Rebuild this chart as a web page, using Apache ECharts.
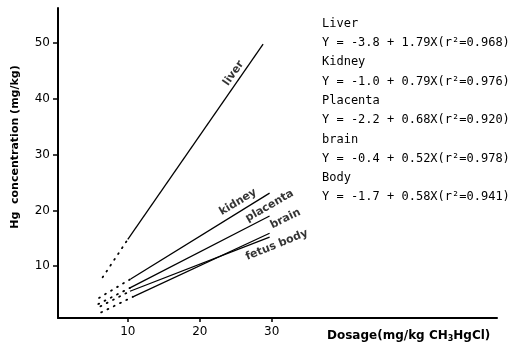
<!DOCTYPE html>
<html>
<head>
<meta charset="utf-8">
<script src="https://cdn.jsdelivr.net/npm/echarts@6/dist/echarts.min.js"></script>
<style>
  html, body { margin: 0; padding: 0; background: #fff; }
  #main { width: 513px; height: 342px; }
</style>
</head>
<body>
<div id="main"></div>
<script>
// tissues and the fitted lines
var tissues = ['liver', 'kidney', 'placenta', 'brain', 'fetus body'];
// solid part (measured range)
var startX = [10.0, 10.4, 10.3, 10.3, 10.7];
var startY = [14.8, 7.7, 6.1, 5.5, 4.5];
var endX = [28.8, 29.7, 29.7, 29.7, 29.7];
var endY = [49.8, 23.1, 19.0, 15.2, 15.9];
// dotted extrapolation toward the origin
var dotX = [6.5, 6.0, 5.9, 6.2, 6.3];
var dotY = [8.0, 4.3, 3.2, 2.8, 1.7];

var xTicks = [10, 20, 30];
var yTicks = [10, 20, 30, 40, 50];

var equations = [
    'Liver',
    'Y = -3.8 + 1.79X(r\u00b2=0.968)',
    'Kidney',
    'Y = -1.0 + 0.79X(r\u00b2=0.976)',
    'Placenta',
    'Y = -2.2 + 0.68X(r\u00b2=0.920)',
    'brain',
    'Y = -0.4 + 0.52X(r\u00b2=0.978)',
    'Body',
    'Y = -1.7 + 0.58X(r\u00b2=0.941)'
];

var myChart = echarts.init(document.getElementById('main'));

var series = [];
tissues.forEach(function (name, i) {
    series.push({
        name: name,
        type: 'line',
        symbol: 'none',
        silent: true,
        lineStyle: { color: '#000', width: 1.3 },
        data: [[startX[i], startY[i]], [endX[i], endY[i]]]
    });
    series.push({
        name: name + ' (extrapolated)',
        type: 'line',
        symbol: 'none',
        silent: true,
        lineStyle: { color: '#000', width: 1.8, type: [1, 6], cap: 'round' },
        data: [[dotX[i], dotY[i]], [startX[i], startY[i]]]
    });
});

// line labels, placed along each line
function lineLabel(text, rot) {
    return {
        show: true, position: 'inside', formatter: text, rotate: rot,
        color: '#000', fontFamily: 'DejaVu Sans', fontWeight: 'bold', fontSize: 11
    };
}
series.push({
    type: 'scatter',
    symbolSize: 0,
    silent: true,
    data: [
        { value: [24.7, 44.6], label: lineLabel(tissues[0], 55) },
        { value: [25.3, 21.5], label: lineLabel(tissues[1], 31) },
        { value: [29.7, 20.8], label: lineLabel(tissues[2], 30) },
        { value: [31.9, 18.5], label: lineLabel(tissues[3], 26) },
        { value: [30.7, 13.8], label: lineLabel(tissues[4], 22) }
    ]
});

var option = {
    animation: false,
    grid: { left: 58, right: 16, top: 8, bottom: 24 },
    xAxis: {
        type: 'value',
        min: 0.3,
        max: 61.3,
        splitLine: { show: false },
        axisLine: { lineStyle: { color: '#000', width: 2 } },
        axisTick: { customValues: xTicks, length: 4, lineStyle: { color: '#000', width: 1.5 } },
        axisLabel: { customValues: xTicks, color: '#000', fontFamily: 'DejaVu Sans', fontSize: 12, margin: 8 }
    },
    yAxis: {
        type: 'value',
        min: 0.7,
        max: 56.3,
        splitLine: { show: false },
        axisLine: { lineStyle: { color: '#000', width: 2 } },
        axisTick: { customValues: yTicks, length: 5, lineStyle: { color: '#000', width: 1.5 } },
        axisLabel: { customValues: yTicks, color: '#000', fontFamily: 'DejaVu Sans', fontSize: 12, margin: 8 }
    },
    graphic: [
        {
            type: 'text',
            left: 322,
            top: 14,
            style: {
                text: equations.join('\n'),
                font: '12px "DejaVu Sans Mono"',
                fill: '#000',
                lineHeight: 19.3
            }
        },
        {
            type: 'text',
            x: 15,
            y: 147,
            rotation: Math.PI / 2,
            style: {
                text: 'Hg  concentration (mg/kg)',
                font: 'bold 11px "DejaVu Sans"',
                fill: '#000',
                align: 'center',
                verticalAlign: 'middle'
            }
        },
        {
            type: 'text',
            left: 327,
            top: 330,
            style: {
                rich: {
                    n: { fontFamily: 'DejaVu Sans', fontWeight: 'bold', fontSize: 12, fill: '#000' },
                    s: { fontFamily: 'DejaVu Sans', fontWeight: 'bold', fontSize: 8, fill: '#000', padding: [6, 0, 0, 0] }
                },
                text: '{n|Dosage(mg/kg CH}{s|3}{n|HgCl)}'
            }
        }
    ],
    series: series
};

myChart.setOption(option, true);
</script>
</body>
</html>
